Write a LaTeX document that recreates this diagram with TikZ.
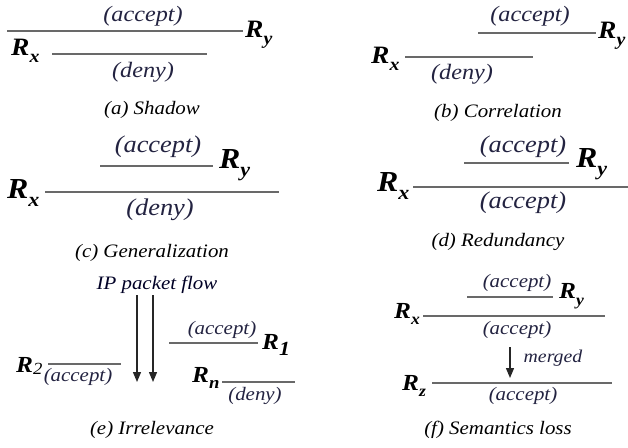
\documentclass[tikz,border=0pt]{standalone}
\usepackage{fontspec}
\setmainfont{Liberation Serif}[FakeStretch=1.1]
\usetikzlibrary{arrows.meta}
\definecolor{lblc}{RGB}{35,35,65}
\definecolor{rulec}{RGB}{105,105,105}
\newcommand{\RR}[3]{{\fontsize{#1}{#1}\selectfont\bfseries\itshape R\raisebox{-0.28em}{\fontsize{#2}{#2}\selectfont #3}}}
\begin{document}
\begin{tikzpicture}[x=1pt,y=-1pt,
  rulel/.style={draw=rulec,line width=2pt},
  lbl/.style={inner sep=0pt,text=lblc,font=\itshape},
  captxt/.style={inner sep=0pt,font=\fontsize{19}{19}\selectfont\itshape},
  rn/.style={inner sep=0pt,anchor=west},
  flow/.style={draw=black!85,line width=1.3pt,-{Triangle[width=8pt,length=10pt]}}]
\useasboundingbox[fill=white] (0,0) rectangle (628,447);
% (a) Shadow
\coordinate (a1s) at (7,31); \coordinate (a1e) at (243,31);
\coordinate (a2s) at (52,54); \coordinate (a2e) at (207,54);
\draw[rulel] (a1s) -- (a1e); \draw[rulel] (a2s) -- (a2e);
\node[lbl,font=\fontsize{22}{22}\selectfont\itshape] (aacc) at (143,16) {(accept)};
\node[lbl,font=\fontsize{22}{22}\selectfont\itshape] (adeny) at (143,72) {(deny)};
\node[rn] (ary) at (245,35) {\RR{25}{18}{y}};
\node[rn] (arx) at (11,51) {\RR{25}{18}{x}};
\node[captxt] (acap) at (152,110) {(a) Shadow};
% (b) Correlation
\coordinate (b1s) at (478,33); \coordinate (b1e) at (596,33);
\coordinate (b2s) at (405,57); \coordinate (b2e) at (533,57);
\draw[rulel] (b1s) -- (b1e); \draw[rulel] (b2s) -- (b2e);
\node[lbl,font=\fontsize{22}{22}\selectfont\itshape] (bacc) at (530,16) {(accept)};
\node[lbl,font=\fontsize{22}{22}\selectfont\itshape] (bdeny) at (462,74) {(deny)};
\node[rn] (bry) at (598,36) {\RR{25}{18}{y}};
\node[rn] (brx) at (371,59) {\RR{25}{18}{x}};
\node[captxt] (bcap) at (498,113) {(b) Correlation};
% (c) Generalization
\coordinate (c1s) at (100,166); \coordinate (c1e) at (213,166);
\coordinate (c2s) at (45,192); \coordinate (c2e) at (279,192);
\draw[rulel] (c1s) -- (c1e); \draw[rulel] (c2s) -- (c2e);
\node[lbl,font=\fontsize{24}{24}\selectfont\itshape] (cacc) at (158,147) {(accept)};
\node[lbl,font=\fontsize{24}{24}\selectfont\itshape] (cdeny) at (160,210) {(deny)};
\node[rn] (cry) at (219,165) {\RR{29}{20}{y}};
\node[rn] (crx) at (7,193) {\RR{29}{20}{x}};
\node[captxt] (ccap) at (152,253) {(c) Generalization};
% (d) Redundancy
\coordinate (d1s) at (464,163); \coordinate (d1e) at (569,163);
\coordinate (d2s) at (413,187); \coordinate (d2e) at (628,187);
\draw[rulel] (d1s) -- (d1e); \draw[rulel] (d2s) -- (d2e);
\node[lbl,font=\fontsize{24}{24}\selectfont\itshape] (dacc1) at (523,147) {(accept)};
\node[lbl,font=\fontsize{24}{24}\selectfont\itshape] (dacc2) at (523,203) {(accept)};
\node[rn] (dry) at (576,164) {\RR{29}{20}{y}};
\node[rn] (drx) at (377,186) {\RR{29}{20}{x}};
\node[captxt] (dcap) at (498,242) {(d) Redundancy};
% (e) Irrelevance
\node[lbl,text=black!85!blue,font=\fontsize{19}{19}\selectfont\itshape] (flowt) at (157,285) {IP packet flow};
\coordinate (f1s) at (137,295); \coordinate (f1e) at (137,382);
\coordinate (f2s) at (153,295); \coordinate (f2e) at (153,382);
\draw[flow] (f1s) -- (f1e); \draw[flow] (f2s) -- (f2e);
\coordinate (e1s) at (169,343); \coordinate (e1e) at (258,343);
\coordinate (e2s) at (48,364); \coordinate (e2e) at (121,364);
\coordinate (e3s) at (222,382); \coordinate (e3e) at (295,382);
\draw[rulel] (e1s) -- (e1e); \draw[rulel] (e2s) -- (e2e); \draw[rulel] (e3s) -- (e3e);
\node[lbl,font=\fontsize{19}{19}\selectfont\itshape] (eacc1) at (222,330) {(accept)};
\node[lbl,font=\fontsize{19}{19}\selectfont\itshape] (eacc2) at (78,377) {(accept)};
\node[lbl,font=\fontsize{19}{19}\selectfont\itshape] (edeny) at (255,396) {(deny)};
\node[rn] (er1) at (262,345) {\RR{23}{20}{1}};
\node[rn] (er2) at (16,366) {{\fontsize{23}{23}\selectfont\bfseries\itshape R\raisebox{-0.1em}{\fontsize{17}{17}\selectfont\mdseries 2}}};
\node[rn] (ern) at (192,378) {\RR{23}{17}{n}};
\node[captxt] (ecap) at (152,430) {(e) Irrelevance};
% (f) Semantics loss
\coordinate (g1s) at (467,297); \coordinate (g1e) at (553,297);
\coordinate (g2s) at (423,316); \coordinate (g2e) at (605,316);
\coordinate (g3s) at (432,383); \coordinate (g3e) at (612,383);
\draw[rulel] (g1s) -- (g1e); \draw[rulel] (g2s) -- (g2e); \draw[rulel] (g3s) -- (g3e);
\node[lbl,font=\fontsize{19}{19}\selectfont\itshape] (facc1) at (517,283) {(accept)};
\node[lbl,font=\fontsize{19}{19}\selectfont\itshape] (facc2) at (517,330) {(accept)};
\node[lbl,font=\fontsize{19}{19}\selectfont\itshape] (facc3) at (523,396) {(accept)};
\node[rn] (fry) at (559,296) {\RR{23}{16}{y}};
\node[rn] (frx) at (394,314) {\RR{23}{16}{x}};
\node[rn] (frz) at (402,386) {\RR{23}{16}{z}};
\coordinate (ms) at (510,347); \coordinate (me) at (510,378);
\draw[flow] (ms) -- (me);
\node[lbl,font=\fontsize{18}{18}\selectfont\itshape] (merged) at (553,358) {merged};
\node[captxt] (fcap) at (498,430) {(f) Semantics loss};
\end{tikzpicture}
\end{document}
